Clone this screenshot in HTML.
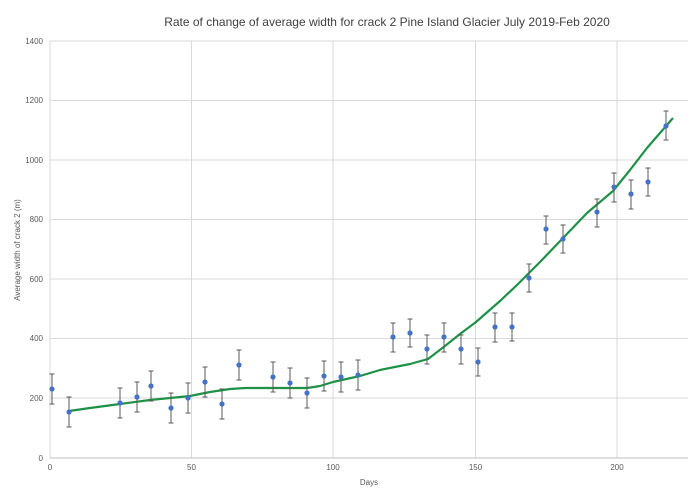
<!DOCTYPE html><html><head><style>body{margin:0;background:#fff}</style></head><body>
<svg width="690" height="494" xmlns="http://www.w3.org/2000/svg" font-family="Liberation Sans, sans-serif">
<rect width="690" height="494" fill="#fff"/>
<text x="387" y="26" font-size="12" fill="#404040" text-anchor="middle">Rate of change of average width for crack 2 Pine Island Glacier July 2019-Feb 2020</text>
<g stroke="#d9d9d9" stroke-width="1">
<line x1="50" y1="41" x2="688" y2="41"/><line x1="50" y1="100.5" x2="688" y2="100.5"/><line x1="50" y1="160" x2="688" y2="160"/><line x1="50" y1="219.5" x2="688" y2="219.5"/><line x1="50" y1="279" x2="688" y2="279"/><line x1="50" y1="338.5" x2="688" y2="338.5"/><line x1="50" y1="398" x2="688" y2="398"/>
<line x1="191.5" y1="41" x2="191.5" y2="458"/><line x1="333" y1="41" x2="333" y2="458"/><line x1="475.5" y1="41" x2="475.5" y2="458"/><line x1="617" y1="41" x2="617" y2="458"/><line x1="50" y1="41" x2="50" y2="458"/>
</g>
<line x1="50" y1="458" x2="688" y2="458" stroke="#bfbfbf"/>
<g font-size="8" fill="#595959" text-anchor="end">
<text x="43" y="44">1400</text><text x="43" y="103">1200</text><text x="43" y="163">1000</text><text x="43" y="222">800</text><text x="43" y="282">600</text><text x="43" y="341">400</text><text x="43" y="401">200</text><text x="43" y="461">0</text>
</g>
<g font-size="8" fill="#595959" text-anchor="middle">
<text x="50" y="470">0</text><text x="191.5" y="470">50</text><text x="333" y="470">100</text><text x="475.5" y="470">150</text><text x="617" y="470">200</text>
</g>
<text x="369" y="485" font-size="8" fill="#595959" text-anchor="middle">Days</text>
<text transform="translate(20,250) rotate(-90)" font-size="8" fill="#595959" text-anchor="middle">Average width of crack 2 (m)</text>
<path d="M69,411 L90,408 L105,406 L120,404 L150,400 L190,396 L210,392 L230,389 L245,388 L273,388 L307,388 L320,386 L333,382 L360,376 L380,370 L410,364 L428,359 L445,346 L460,334 L476,322 L500,301 L517,285 L540,262 L564,237 L587,213 L613,191 L630,170 L647,148 L660,133 L673,118" fill="none" stroke="#1e9146" stroke-width="2.2" stroke-linejoin="round"/>
<g stroke="#595959" stroke-width="1">
<path d="M52,374V404M49.5,374H54.5M49.5,404H54.5
M69,397V427M66.5,397H71.5M66.5,427H71.5
M120,388V418M117.5,388H122.5M117.5,418H122.5
M137,382V412M134.5,382H139.5M134.5,412H139.5
M151,371V401M148.5,371H153.5M148.5,401H153.5
M171,393V423M168.5,393H173.5M168.5,423H173.5
M188,383V413M185.5,383H190.5M185.5,413H190.5
M205,367V397M202.5,367H207.5M202.5,397H207.5
M222,389V419M219.5,389H224.5M219.5,419H224.5
M239,350V380M236.5,350H241.5M236.5,380H241.5
M273,362V392M270.5,362H275.5M270.5,392H275.5
M290,368V398M287.5,368H292.5M287.5,398H292.5
M307,378V408M304.5,378H309.5M304.5,408H309.5
M324,361V391M321.5,361H326.5M321.5,391H326.5
M341,362V392M338.5,362H343.5M338.5,392H343.5
M358,360V390M355.5,360H360.5M355.5,390H360.5
M393,323V352M390.5,323H395.5M390.5,352H395.5
M410,319V347M407.5,319H412.5M407.5,347H412.5
M427,335V364M424.5,335H429.5M424.5,364H429.5
M444,323V352M441.5,323H446.5M441.5,352H446.5
M461,335V364M458.5,335H463.5M458.5,364H463.5
M478,348V376M475.5,348H480.5M475.5,376H480.5
M495,313V342M492.5,313H497.5M492.5,342H497.5
M512,313V341M509.5,313H514.5M509.5,341H514.5
M529,264V292M526.5,264H531.5M526.5,292H531.5
M546,216V244M543.5,216H548.5M543.5,244H548.5
M563,225V253M560.5,225H565.5M560.5,253H565.5
M597,199V227M594.5,199H599.5M594.5,227H599.5
M614,173V202M611.5,173H616.5M611.5,202H616.5
M631,180V209M628.5,180H633.5M628.5,209H633.5
M648,168V196M645.5,168H650.5M645.5,196H650.5
M666,111V140M663.5,111H668.5M663.5,140H668.5"/>
</g>
<g fill="#4472c4">
<circle cx="52" cy="389" r="2.6"/><circle cx="69" cy="412" r="2.6"/><circle cx="120" cy="403" r="2.6"/><circle cx="137" cy="397" r="2.6"/><circle cx="151" cy="386" r="2.6"/><circle cx="171" cy="408" r="2.6"/><circle cx="188" cy="398" r="2.6"/><circle cx="205" cy="382" r="2.6"/><circle cx="222" cy="404" r="2.6"/><circle cx="239" cy="365" r="2.6"/><circle cx="273" cy="377" r="2.6"/><circle cx="290" cy="383" r="2.6"/><circle cx="307" cy="393" r="2.6"/><circle cx="324" cy="376" r="2.6"/><circle cx="341" cy="377" r="2.6"/><circle cx="358" cy="375" r="2.6"/><circle cx="393" cy="337" r="2.6"/><circle cx="410" cy="333" r="2.6"/><circle cx="427" cy="349" r="2.6"/><circle cx="444" cy="337" r="2.6"/><circle cx="461" cy="349" r="2.6"/><circle cx="478" cy="362" r="2.6"/><circle cx="495" cy="327" r="2.6"/><circle cx="512" cy="327" r="2.6"/><circle cx="529" cy="278" r="2.6"/><circle cx="546" cy="229" r="2.6"/><circle cx="563" cy="239" r="2.6"/><circle cx="597" cy="212" r="2.6"/><circle cx="614" cy="187" r="2.6"/><circle cx="631" cy="194" r="2.6"/><circle cx="648" cy="182" r="2.6"/><circle cx="666" cy="126" r="2.6"/>
</g>
</svg></body></html>
